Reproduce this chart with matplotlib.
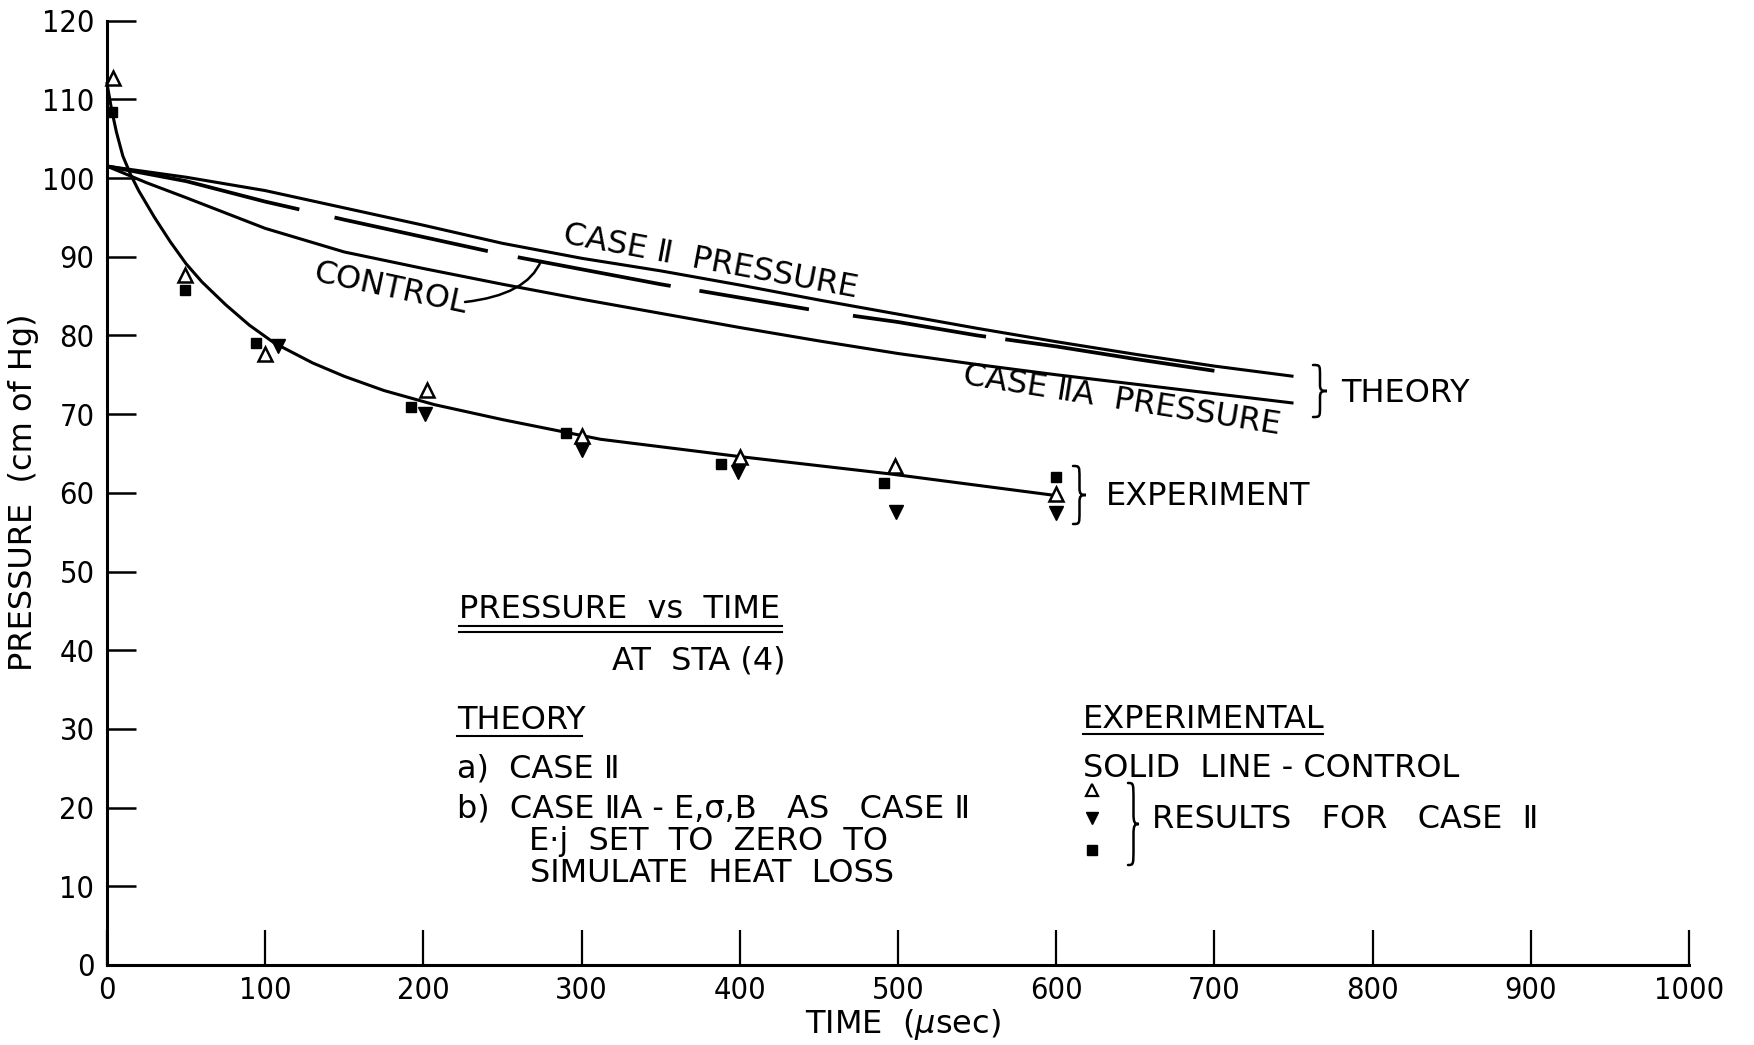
import numpy as np
import matplotlib
matplotlib.use("Agg")
import matplotlib.pyplot as plt
from matplotlib.path import Path
from matplotlib.patches import PathPatch
from matplotlib.lines import Line2D
from matplotlib import font_manager as fm

# ---------------- data ----------------
# Theory: Case II pressure (upper solid line)
case2_t = [0, 50, 100, 150, 200, 250, 300, 350, 400, 450, 500, 550, 600, 650, 700, 750]
case2_p = [101.5, 100.1, 98.4, 96.2, 94.0, 91.7, 89.8, 88.2, 86.4, 84.5, 82.7, 80.9, 79.2, 77.6, 76.1, 74.8]

# Theory: control (dashed line)
ctrl_t = [0, 50, 100, 150, 200, 250, 300, 350, 400, 450, 500, 550, 600, 650, 700]
ctrl_p = [101.5, 99.6, 97.0, 94.7, 92.5, 90.3, 88.4, 86.5, 84.8, 83.1, 81.7, 80.0, 78.6, 77.0, 75.5]

# Theory: Case IIA pressure (lower solid line)
case2a_t = [0, 25, 50, 100, 150, 200, 250, 300, 350, 400, 450, 500, 550, 600, 650, 700, 750]
case2a_p = [101.5, 99.4, 97.5, 93.6, 90.6, 88.5, 86.5, 84.6, 82.8, 81.0, 79.3, 77.7, 76.3, 75.0, 73.8, 72.6, 71.4]

# Experiment: solid line - control
exp_t = [0, 3, 6, 10, 15, 20, 30, 40, 50, 60, 75, 90, 106, 130, 150, 175, 207, 250, 312, 400, 495, 598]
exp_p = [112.0, 108.6, 105.8, 102.8, 100.4, 98.4, 95.0, 91.9, 89.1, 86.8, 83.9, 81.3, 79.0, 76.5,
         74.8, 73.0, 71.2, 69.3, 66.8, 64.6, 62.4, 59.7]

# Experimental results for Case II
tri_up_t = [4, 49, 100, 202, 300, 400, 498, 600]
tri_up_p = [112.7, 87.7, 77.6, 73.0, 67.2, 64.5, 63.4, 59.8]
tri_dn_t = [108, 201, 300, 399, 499, 600]
tri_dn_p = [78.6, 70.0, 65.4, 62.6, 57.6, 57.4]
sq_t = [3, 49, 94, 192, 290, 388, 491, 600]
sq_p = [108.4, 85.8, 79.0, 70.9, 67.6, 63.7, 61.3, 62.0]

x_ticks = [0, 100, 200, 300, 400, 500, 600, 700, 800, 900, 1000]
y_ticks = [0, 10, 20, 30, 40, 50, 60, 70, 80, 90, 100, 110, 120]

# ---------------- fonts ----------------
plt.rcParams['font.family'] = ['DejaVu Sans']
plt.rcParams['lines.scale_dashes'] = False
plt.rcParams['mathtext.fontset'] = 'dejavusans'


def pick_narrow():
    cands = []
    for f in fm.fontManager.ttflist:
        st = str(f.stretch)
        if st in ('condensed', 'semi-condensed', '75', '87.5') and f.style == 'normal' \
                and str(f.weight) in ('normal', '400', 'regular', 'book'):
            cands.append(f)
    order = ['DejaVu Sans', 'Liberation Sans Narrow', 'Roboto Condensed', 'Noto Sans',
             'Open Sans', 'Roboto']
    for name in order:
        for f in cands:
            if f.name == name:
                return fm.FontProperties(fname=f.fname), True
    for f in fm.fontManager.ttflist:
        if f.name == 'Liberation Sans Narrow' and f.style == 'normal':
            return fm.FontProperties(fname=f.fname), True
    if cands:
        return fm.FontProperties(fname=cands[0].fname), True
    return fm.FontProperties(family='DejaVu Sans'), False


NARROW, HAVE_NARROW = pick_narrow()

# ---------------- figure ----------------
W, H = 1754, 1045
fig = plt.figure(figsize=(W / 100, H / 100), dpi=100)
ax = fig.add_axes([107 / W, 1 - 965 / H, (1689 - 107) / W, (965 - 20.6) / H])

FS = 23
TICKFS = 22 if HAVE_NARROW else 20
LW = 2.2


def fx(px):
    return px / W


def fy(py):
    return 1 - py / H


ax.plot(case2_t, case2_p, color='black', lw=LW, solid_capstyle='butt')
ax.plot(case2a_t, case2a_p, color='black', lw=LW, solid_capstyle='butt')
ax.plot(ctrl_t, ctrl_p, color='black', lw=LW + 0.5,
        linestyle=(0, (142, 26, 113, 22, 112, 21, 80, 32, 97, 14, 160, 30)))
ax.plot(exp_t, exp_p, color='black', lw=LW, clip_on=False)

ax.plot(tri_up_t, tri_up_p, linestyle='none', marker='^', ms=10.5, mfc='white', mec='black',
        mew=1.8, clip_on=False, zorder=5)
ax.plot(tri_dn_t, tri_dn_p, linestyle='none', marker='v', ms=10.5, mfc='black', mec='black',
        clip_on=False, zorder=5)
ax.plot(sq_t, sq_p, linestyle='none', marker='s', ms=7.5, mfc='black', mec='black',
        clip_on=False, zorder=5)

ax.set_xlim(0, 1000)
ax.set_ylim(0, 120)
ax.set_xticks(x_ticks)
ax.set_yticks(y_ticks)
ax.set_xticklabels([str(v) for v in x_ticks], fontproperties=NARROW, fontsize=TICKFS)
ax.set_yticklabels([str(v) for v in y_ticks], fontproperties=NARROW, fontsize=TICKFS)
for s in ['top', 'right']:
    ax.spines[s].set_visible(False)
for s in ['left', 'bottom']:
    ax.spines[s].set_linewidth(2.2)
ax.tick_params(axis='x', direction='in', length=25, width=1.6, pad=8)
ax.tick_params(axis='y', direction='in', length=21, width=1.8, pad=9)

# axis labels
fig.text(fx(903), fy(1033), 'TIME  ($\\mu$sec)', ha='center', va='baseline', fontsize=FS)
fig.text(fx(24), fy(492), 'PRESSURE  (cm of Hg)', ha='center', va='center', rotation=90,
         fontsize=FS)

# curve labels
ax.text(381.7, 89.4, 'CASE \u2161  PRESSURE', rotation=-10.5, ha='center', va='center',
        fontsize=FS, rotation_mode='anchor')
ax.text(641.6, 71.7, 'CASE \u2161A  PRESSURE', rotation=-9, ha='center', va='center',
        fontsize=FS, rotation_mode='anchor')
ax.text(179, 85.9, 'CONTROL', rotation=-12, ha='center', va='center', fontsize=FS,
        rotation_mode='anchor')


def pxpath(pts, codes, lw=1.8):
    verts = [(fx(x), fy(y)) for x, y in pts]
    patch = PathPatch(Path(verts, codes), fill=False, lw=lw, edgecolor='black',
                      transform=fig.transFigure, capstyle='round')
    fig.add_artist(patch)


# leader from CONTROL to the dashed line
pxpath([(465, 302), (527, 295), (541, 261)], [Path.MOVETO, Path.CURVE3, Path.CURVE3], lw=1.8)


def brace(x0, yt, yb, w, lw=1.8):
    ym = (yt + yb) / 2.0
    hh = yb - yt
    xm = x0 + w * 0.5
    pts = [(x0, yt), (xm, yt), (xm, yt), (xm, yt + 0.22 * hh),
           (xm, ym - 0.12 * hh),
           (xm, ym - 0.02 * hh), (xm + 0.1 * w, ym), (x0 + w, ym),
           (xm + 0.1 * w, ym), (xm, ym + 0.02 * hh), (xm, ym + 0.12 * hh),
           (xm, yb - 0.22 * hh),
           (xm, yb), (xm, yb), (x0, yb)]
    codes = [Path.MOVETO, Path.CURVE4, Path.CURVE4, Path.CURVE4, Path.LINETO,
             Path.CURVE4, Path.CURVE4, Path.CURVE4,
             Path.CURVE4, Path.CURVE4, Path.CURVE4, Path.LINETO,
             Path.CURVE4, Path.CURVE4, Path.CURVE4]
    pxpath(pts, codes, lw=lw)


def hline(x0, x1, y, lw=1.5):
    fig.add_artist(Line2D([fx(x0), fx(x1)], [fy(y), fy(y)], color='black', lw=lw,
                          transform=fig.transFigure))


def ftext(x, y, s, ha='left', **kw):
    fig.text(fx(x), fy(y), s, ha=ha, va='baseline', fontsize=FS, **kw)


# right-side group labels
brace(1313, 365, 417, 14)
ftext(1341, 402, 'THEORY')
brace(1073, 466, 524, 13)
ftext(1106, 505, 'EXPERIMENT')

# central notes
ftext(459, 618, 'PRESSURE  vs  TIME')
hline(459, 782, 625.5)
hline(459, 782, 631.5)
ftext(612, 670, 'AT  STA (4)')
ftext(457, 729, 'THEORY')
hline(457, 582, 736)
ftext(457, 777, 'a)  CASE \u2161')
ftext(457, 817, 'b)  CASE \u2161A - E,\u03c3,B   AS   CASE \u2161')
ftext(529, 850, 'E\u00b7j  SET  TO  ZERO  TO')
ftext(530, 882, 'SIMULATE  HEAT  LOSS')

# experimental legend
ftext(1083, 728, 'EXPERIMENTAL')
hline(1083, 1323, 733.5)
ftext(1083, 777, 'SOLID  LINE - CONTROL')
fig.add_artist(Line2D([fx(1092)], [fy(790)], marker='^', ms=8, mfc='white', mec='black',
                      mew=1.6, linestyle='none', transform=fig.transFigure))
fig.add_artist(Line2D([fx(1092)], [fy(818)], marker='v', ms=9, mfc='black', mec='black',
                      linestyle='none', transform=fig.transFigure))
fig.add_artist(Line2D([fx(1092)], [fy(850)], marker='s', ms=7, mfc='black', mec='black',
                      linestyle='none', transform=fig.transFigure))
brace(1128, 783, 865, 11)
ftext(1152, 828, 'RESULTS   FOR   CASE  \u2161')

fig.savefig('out.png', dpi=100, facecolor='white')
